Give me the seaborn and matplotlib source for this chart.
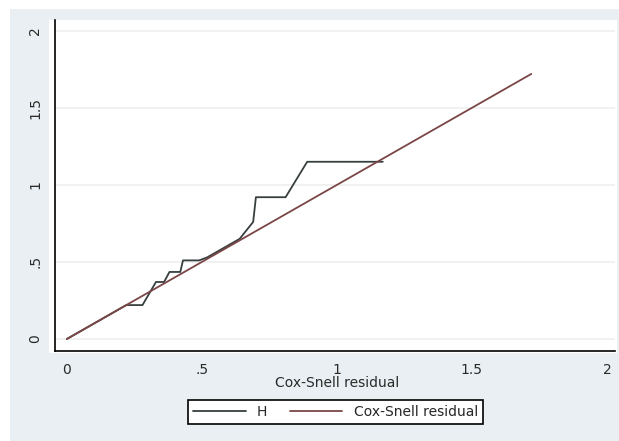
import numpy as np
import pandas as pd
import seaborn as sns
import matplotlib.pyplot as plt
from matplotlib.patches import Rectangle

# Cox-Snell residuals (sorted) and Nelson-Aalen cumulative hazard H
cs_resid = [0.00, 0.02, 0.04, 0.06, 0.08, 0.10, 0.12, 0.14, 0.16, 0.18,
            0.20, 0.22, 0.24, 0.26, 0.28, 0.33, 0.36, 0.38, 0.42, 0.43,
            0.49, 0.52, 0.55, 0.58, 0.61, 0.64, 0.69, 0.70, 0.81, 0.89,
            1.00, 1.17, 1.35, 1.52, 1.72]
H = [0.00, 0.02, 0.04, 0.06, 0.08, 0.10, 0.12, 0.14, 0.16, 0.18,
     0.20, 0.22, 0.22, 0.22, 0.22, 0.37, 0.37, 0.435, 0.435, 0.51,
     0.51, 0.53, 0.56, 0.59, 0.62, 0.65, 0.76, 0.92, 0.92, 1.15,
     1.15, 1.15, np.nan, np.nan, np.nan]

ticks = [0, 0.5, 1, 1.5, 2]
tick_labels = ["0", ".5", "1", "1.5", "2"]

df = pd.DataFrame({"cs": cs_resid, "H": H})

sns.set_style("white")
plt.rcParams["font.family"] = ["DejaVu Sans"]

W, Hpx = 619, 441
fig = plt.figure(figsize=(6.19, 4.41), dpi=100, facecolor="#e9eff2")

# white margins of the screenshot and the white plot region behind the axes
fig.patches.append(Rectangle((0, 1 - 9 / Hpx), 1, 9 / Hpx, transform=fig.transFigure,
                             facecolor="white", edgecolor="none", zorder=-2))
fig.patches.append(Rectangle((0, 0), 10 / W, 1, transform=fig.transFigure,
                             facecolor="white", edgecolor="none", zorder=-2))
fig.patches.append(Rectangle((49 / W, 1 - 353 / Hpx), (617 - 49) / W, 333 / Hpx,
                             transform=fig.transFigure, facecolor="white",
                             edgecolor="none", zorder=-1))

ax = fig.add_axes([55 / W, 1 - 351 / Hpx, (615 - 55) / W, 331 / Hpx])
ax.set_facecolor("white")

sns.lineplot(data=df.dropna(), x="cs", y="H", sort=False, estimator=None,
             color="#37403f", linewidth=1.3, label="H", ax=ax)
sns.lineplot(data=df, x="cs", y="cs", sort=False, estimator=None,
             color="#7a4646", linewidth=1.3, label="Cox-Snell residual", ax=ax)

ax.set_xlim(-0.044, 2.03)
ax.set_ylim(-0.078, 2.07)
ax.set_xticks(ticks)
ax.set_xticklabels(tick_labels)
ax.set_yticks(ticks)
ax.set_yticklabels(tick_labels, rotation=90, va="center")
for t in ticks:
    ax.axhline(t, color="#efefef", linewidth=1.2, zorder=0)

for s in ["top", "right"]:
    ax.spines[s].set_visible(False)
for s in ["left", "bottom"]:
    ax.spines[s].set_color("black")
    ax.spines[s].set_linewidth(1.2)
ax.tick_params(axis="both", direction="out", length=5, width=1.2,
               color="black", labelsize=10, labelcolor="#2a2a2a", pad=4)
ax.tick_params(axis="x", pad=4)
ax.set_xlabel("")
ax.set_ylabel("")

fig.text(337 / W, 1 - 383 / Hpx, "Cox-Snell residual", ha="center",
         va="center", fontsize=10, color="#2a2a2a")

ax.get_legend().remove()
handles, labels = ax.get_legend_handles_labels()
leg = fig.legend(handles, labels, loc="center", ncol=2,
                 bbox_to_anchor=(335.5 / W, 1 - 412 / Hpx),
                 frameon=True, fancybox=False, edgecolor="black",
                 facecolor="white", framealpha=1, fontsize=10,
                 handlelength=3.8, columnspacing=1.6, borderpad=0.35)
leg.get_frame().set_linewidth(1.2)

fig.savefig("out.png", dpi=100, facecolor=fig.get_facecolor())
